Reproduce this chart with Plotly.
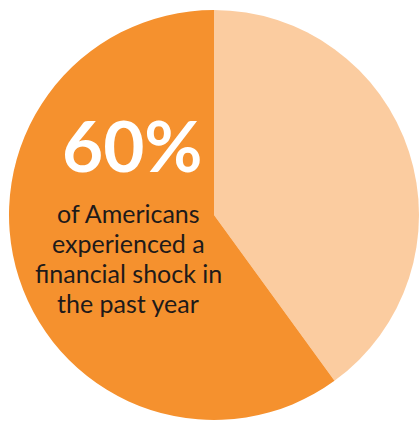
import plotly.graph_objects as go

labels = ["No financial shock", "Experienced a financial shock"]
values = [40, 60]
colors = ["#FBCCA0", "#F5912E"]
headline = "60%"
caption_lines = ["of Americans", "experienced a", "financial shock in", "the past year"]

fig = go.Figure(go.Pie(
    labels=labels,
    values=values,
    sort=False,
    direction="clockwise",
    rotation=0,
    marker=dict(colors=colors, line=dict(width=0)),
    textinfo="none",
    hoverinfo="label+percent",
    showlegend=False,
))

fig.add_annotation(
    text="<b>" + headline + "</b>", xref="paper", yref="paper",
    x=0.30, y=0.671, xanchor="center", yanchor="middle", showarrow=False,
    font=dict(family="Lato", size=71, color="#FFFFFF"),
)
# caption lines, one annotation per line (pixel line pitch ~30px)
plot_h = 410
top_px = 10
for i, line in enumerate(caption_lines):
    cy = 213 + 30 * i
    fig.add_annotation(
        text=line, xref="paper", yref="paper",
        x=0.291, y=1 - (cy - top_px) / plot_h,
        xanchor="center", yanchor="middle", showarrow=False,
        font=dict(family="Lato", size=25, color="#1E1A1A", weight=400),
    )

fig.update_layout(
    width=420, height=421,
    margin=dict(l=9, r=1, t=10, b=1),
    paper_bgcolor="white", plot_bgcolor="white",
)
fig.write_html("out.html", config={"displayModeBar": False})
